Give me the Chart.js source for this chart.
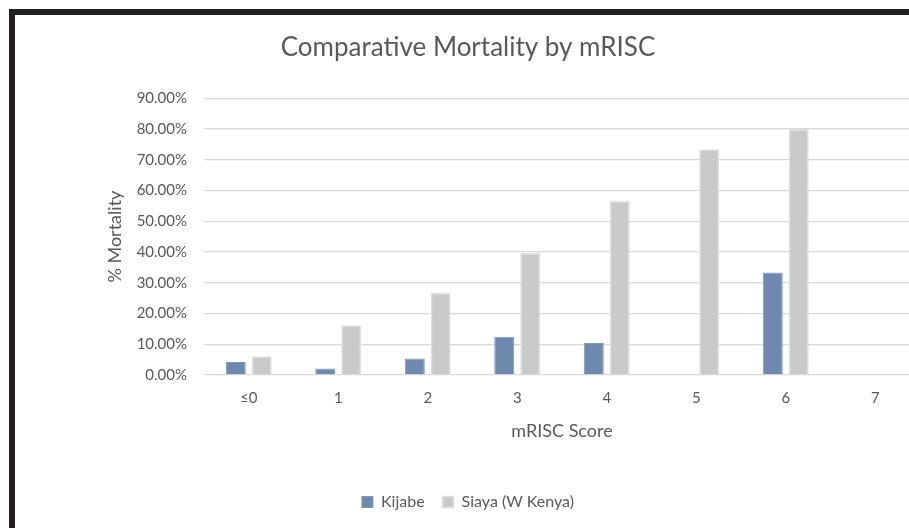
<!DOCTYPE html>
<html>
<head>
<meta charset="utf-8">
<script src="https://cdn.jsdelivr.net/npm/chart.js@4"></script>
<style>
  html, body { margin: 0; padding: 0; background: #fff; overflow: hidden; }
  body { width: 909px; height: 528px; position: relative; }
  .frame {
    position: absolute; left: 9px; top: 9px; width: 940px; height: 560px;
    border-top: 6px solid #231f20; border-left: 6px solid #231f20;
  }
  .wrap { position: absolute; left: 16px; top: 15px; width: 910px; height: 513px; }
</style>
</head>
<body>
<div class="frame"></div>
<div class="wrap"><canvas id="chart"></canvas></div>
<script>
// ─── Data ─────────────────────────────────────────────
const categories  = ['≤0', '1', '2', '3', '4', '5', '6', '7']
const kijabe      = [4.2, 2.1, 5.4, 12.4, 10.4, null, 33.3, null]
const siaya       = [6.1, 16.2, 26.7, 39.7, 56.6, 73.4, 80.0, null]
const seriesNames = ['Kijabe', 'Siaya (W Kenya)']

// ─── Style ────────────────────────────────────────────
const TEXT = '#595959'
const GRID = '#d9d9d9'
Chart.defaults.font.family = 'Lato, "Open Sans", sans-serif'
Chart.defaults.color = TEXT

const ctx = document.getElementById('chart').getContext('2d')

new Chart(ctx, {
  type: 'bar',
  data: {
    labels: categories,
    datasets: [
      {
        label: seriesNames[0],
        data: kijabe,
        backgroundColor: '#6f89ae',
        borderColor: '#7f96b8',
        borderWidth: 1,
        categoryPercentage: 0.58,
        barPercentage: 0.77
      },
      {
        label: seriesNames[1],
        data: siaya,
        backgroundColor: '#c8c9cb',
        borderColor: '#dedfe1',
        borderWidth: 1.5,
        categoryPercentage: 0.58,
        barPercentage: 0.77
      }
    ]
  },
  options: {
    responsive: true,
    maintainAspectRatio: false,
    animation: false,
    layout: { padding: { left: 0, right: 6, top: 0, bottom: 8 } },
    scales: {
      x: {
        grid: { display: false },
        border: { display: false },
        ticks: { color: TEXT, font: { size: 15 }, padding: 6 },
        title: {
          display: true,
          text: 'mRISC Score',
          color: TEXT,
          font: { size: 18 },
          padding: { top: 0, bottom: 34 }
        },
        afterFit: s => { s.height = 101 }
      },
      y: {
        min: 0,
        max: 90,
        grid: { color: GRID, lineWidth: 1.3, drawTicks: false },
        border: { display: false },
        ticks: {
          stepSize: 10,
          color: TEXT,
          font: { size: 15 },
          padding: 17,
          callback: v => `${v.toFixed(2)}%`
        },
        title: {
          display: true,
          text: '% Mortality',
          color: TEXT,
          font: { size: 18 },
          padding: { top: 88, bottom: 0 }
        },
        afterFit: s => { s.width = 188 }
      }
    },
    plugins: {
      title: {
        display: true,
        text: 'Comparative Mortality by mRISC',
        color: TEXT,
        font: { size: 26, weight: 'normal' },
        padding: { top: 17, bottom: 35 }
      },
      legend: {
        position: 'bottom',
        labels: { color: TEXT, font: { size: 16 }, boxWidth: 11, boxHeight: 11, padding: 18 }
      },
      tooltip: { enabled: false }
    }
  }
})
</script>
</body>
</html>
